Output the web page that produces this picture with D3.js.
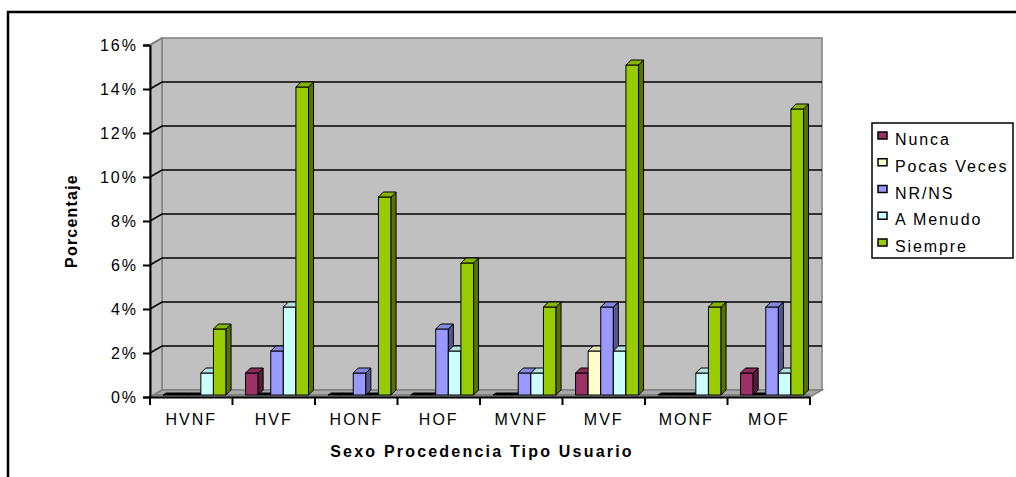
<!DOCTYPE html>
<html>
<head>
<meta charset="utf-8">
<script src="https://cdn.jsdelivr.net/npm/d3@7"></script>
<style>
  html, body { margin: 0; padding: 0; background: #fff; }
  svg { display: block; font-family: "Liberation Sans", Arial, sans-serif; }
</style>
</head>
<body>
<svg id="chart" width="1016" height="477"></svg>
<script>
// Categories (sex / origin / user type) and the percentage for each answer
const categories = ["HVNF", "HVF", "HONF", "HOF", "MVNF", "MVF", "MONF", "MOF"];
const seriesNames = ["Nunca", "Pocas Veces", "NR/NS", "A Menudo", "Siempre"];
const nunca      = [0, 1, 0, 0, 0, 1, 0, 1];
const pocasVeces = [0, 0, 0, 0, 0, 2, 0, 0];
const nrns       = [0, 2, 1, 3, 1, 4, 0, 4];
const aMenudo    = [1, 4, 0, 2, 1, 2, 1, 1];
const siempre    = [3, 14, 9, 6, 4, 15, 4, 13];
const yTicks = [0, 2, 4, 6, 8, 10, 12, 14, 16];

const seriesValues = [nunca, pocasVeces, nrns, aMenudo, siempre];
const colors = ["#993366", "#FFFFCC", "#9999FF", "#CCFFFF", "#99CC00"];

const svg = d3.select("#chart");

// Frame geometry
const plotLeft = 150, plotRight = 810, plotBottom = 397, plotTop = 45;
const depthX = 12, depthY = -7;      // wall/floor depth
const barDX = 5, barDY = -5;         // bar depth
const barShiftX = 3.3, barShiftY = -2;

const x = d3.scaleBand().domain(categories).range([plotLeft, plotRight]).paddingInner(0).paddingOuter(0);
const y = d3.scaleLinear().domain([0, 16]).range([plotBottom, plotTop]);
const xs = d3.scaleBand().domain(seriesNames).range([0, 63]);

// Outer border
svg.append("rect").attr("x", 8).attr("y", 12).attr("width", 1030).attr("height", 500)
  .attr("fill", "none").attr("stroke", "#000").attr("stroke-width", 2.5);

const g = svg.append("g");

// Back wall
g.append("rect")
  .attr("x", plotLeft + depthX).attr("y", y(16) + depthY)
  .attr("width", plotRight - plotLeft).attr("height", plotBottom - plotTop)
  .attr("fill", "#C0C0C0").attr("stroke", "#808080").attr("stroke-width", 1.5);

// Side wall
g.append("polygon")
  .attr("points", [[plotLeft, y(16)], [plotLeft + depthX, y(16) + depthY], [plotLeft + depthX, plotBottom + depthY], [plotLeft, plotBottom]].join(" "))
  .attr("fill", "#C0C0C0").attr("stroke", "#808080").attr("stroke-width", 1.5);

// Floor
g.append("polygon")
  .attr("points", [[plotLeft, plotBottom], [plotLeft + depthX, plotBottom + depthY], [plotRight + depthX, plotBottom + depthY], [plotRight, plotBottom]].join(" "))
  .attr("fill", "#A8A8A8").attr("stroke", "#808080").attr("stroke-width", 1.5);
g.append("line")
  .attr("x1", plotLeft + 4).attr("x2", plotRight).attr("y1", plotBottom - 2).attr("y2", plotBottom - 2)
  .attr("stroke", "#808080").attr("stroke-width", 2);

// Gridlines on the walls
yTicks.filter(v => v > 0 && v < 16).forEach(v => {
  g.append("polyline")
    .attr("points", [[plotLeft, y(v)], [plotLeft + depthX, y(v) + depthY], [plotRight + depthX, y(v) + depthY]].join(" "))
    .attr("fill", "none").attr("stroke", "#000").attr("stroke-width", 1.5);
});

// Bars, drawn left to right so nearer faces overlap correctly
function shade(c, k) { return d3.color(c).darker(k).formatHex(); }
categories.forEach((cat, ci) => {
  seriesNames.forEach((s, si) => {
    const v = seriesValues[si][ci];
    const x0 = x(cat) + (x.bandwidth() - 63) / 2 + xs(s) + barShiftX;
    const x1 = x0 + xs.bandwidth();
    const yb = y(0) + barShiftY;
    const yt = y(v) + barShiftY;
    const bg = g.append("g").attr("stroke", "#000").attr("stroke-width", 1).attr("stroke-linejoin", "round");
    if (v === 0) {
      // an empty bar shows only as a flat dark sliver on the floor
      bg.append("polygon")
        .attr("points", [[x0, yb], [x0 + 3, yb - 2], [x1 + 3, yb - 2], [x1, yb]].join(" "))
        .attr("fill", "#000");
      return;
    }
    // front face
    bg.append("rect").attr("x", x0).attr("y", yt).attr("width", x1 - x0).attr("height", yb - yt)
      .attr("fill", colors[si]);
    // side face
    bg.append("polygon")
      .attr("points", [[x1, yt], [x1 + barDX, yt + barDY], [x1 + barDX, yb + barDY], [x1, yb]].join(" "))
      .attr("fill", shade(colors[si], 1.6));
    // top face
    bg.append("polygon")
      .attr("points", [[x0, yt], [x0 + barDX, yt + barDY], [x1 + barDX, yt + barDY], [x1, yt]].join(" "))
      .attr("fill", shade(colors[si], 0.35));
  });
});

// Y axis
const yAxis = d3.axisLeft(y).tickValues(yTicks).tickSize(7).tickPadding(5).tickFormat(d => d + "%");
const ya = svg.append("g").attr("transform", `translate(${plotLeft},0)`).call(yAxis);
ya.select(".domain").attr("stroke", "#000").attr("stroke-width", 2);
ya.selectAll(".tick line").attr("stroke", "#000").attr("stroke-width", 2);
ya.selectAll(".tick text").attr("font-size", 16).attr("letter-spacing", 2).attr("fill", "#000")
  .attr("font-family", "Liberation Sans, Arial, sans-serif");

// Diagonal at the top of the axis (wall edge)
svg.append("line").attr("x1", plotLeft).attr("y1", y(16)).attr("x2", plotLeft + depthX).attr("y2", y(16) + depthY)
  .attr("stroke", "#808080").attr("stroke-width", 1.5);

// X axis
const xAxis = d3.axisBottom(x).tickSize(0).tickPadding(17);
const xa = svg.append("g").attr("transform", `translate(0,${plotBottom})`).call(xAxis);
xa.select(".domain").attr("stroke", "#000").attr("stroke-width", 2);
xa.selectAll(".tick text").attr("font-size", 16).attr("letter-spacing", 2).attr("fill", "#000")
  .attr("font-family", "Liberation Sans, Arial, sans-serif");
// category boundary ticks
xa.selectAll(".bound").data(d3.range(categories.length + 1)).enter().append("line")
  .attr("x1", i => plotLeft + i * x.step()).attr("x2", i => plotLeft + i * x.step())
  .attr("y1", 0).attr("y2", 8).attr("stroke", "#000").attr("stroke-width", 2);

// Axis titles
svg.append("text").attr("x", 482).attr("y", 457).attr("text-anchor", "middle")
  .attr("font-size", 16).attr("font-weight", "bold").attr("letter-spacing", 2.2)
  .text("Sexo Procedencia Tipo Usuario");
svg.append("text").attr("transform", "translate(77,221) rotate(-90)").attr("text-anchor", "middle")
  .attr("font-size", 16).attr("font-weight", "bold").attr("letter-spacing", 1.2)
  .text("Porcentaje");

// Legend
const lg = svg.append("g");
lg.append("rect").attr("x", 872).attr("y", 123).attr("width", 141).attr("height", 135)
  .attr("fill", "#fff").attr("stroke", "#000").attr("stroke-width", 1.5);
seriesNames.forEach((s, i) => {
  const cy = 135 + i * 26.75;
  lg.append("rect").attr("x", 878).attr("y", cy - 3).attr("width", 9).attr("height", 7)
    .attr("fill", colors[i]).attr("stroke", "#000").attr("stroke-width", 1.5);
  lg.append("text").attr("x", 895).attr("y", cy + 10).attr("font-size", 16).attr("letter-spacing", 1.9)
    .text(s);
});
</script>
</body>
</html>
